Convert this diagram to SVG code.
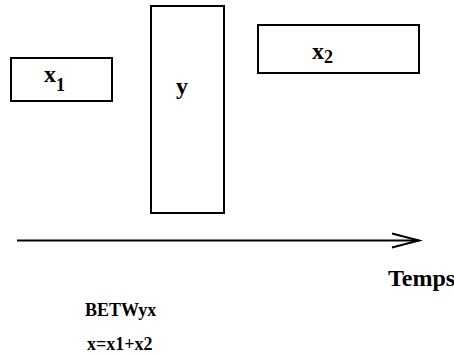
<svg xmlns="http://www.w3.org/2000/svg" width="454" height="356" viewBox="0 0 454 356">
<style>
.box{fill:#fff;stroke:#000;stroke-width:2}
.t{font-family:"Liberation Serif",serif;font-weight:bold;fill:#000}
.lbl{font-size:24px}
.sub{font-size:18px}
.ln{stroke:#000;stroke-width:2;fill:none}
</style>
<rect width="454" height="356" fill="#fff"/>
<g id="x1">
<rect class="box" x="11" y="58" width="101" height="43"/>
<text class="t lbl" x="44" y="82">x<tspan class="sub" dy="9">1</tspan></text>
</g>
<g id="y">
<rect class="box" x="151" y="6" width="73" height="207"/>
<text class="t lbl" x="176" y="94">y</text>
</g>
<g id="x2">
<rect class="box" x="258" y="25" width="161" height="48"/>
<text class="t lbl" x="312" y="59">x<tspan class="sub" dy="4">2</tspan></text>
</g>
<g id="connectors">
<line class="ln" x1="17" y1="240.5" x2="419" y2="240.5"/>
<polyline class="ln" points="392,233.5 419,240.5 392,247.5"/>
</g>
<text class="t" x="388" y="286" font-size="24">Temps</text>
<text class="t" x="85" y="316" font-size="18">BETWyx</text>
<text class="t" x="87" y="350" font-size="18">x=x1+x2</text>
</svg>
